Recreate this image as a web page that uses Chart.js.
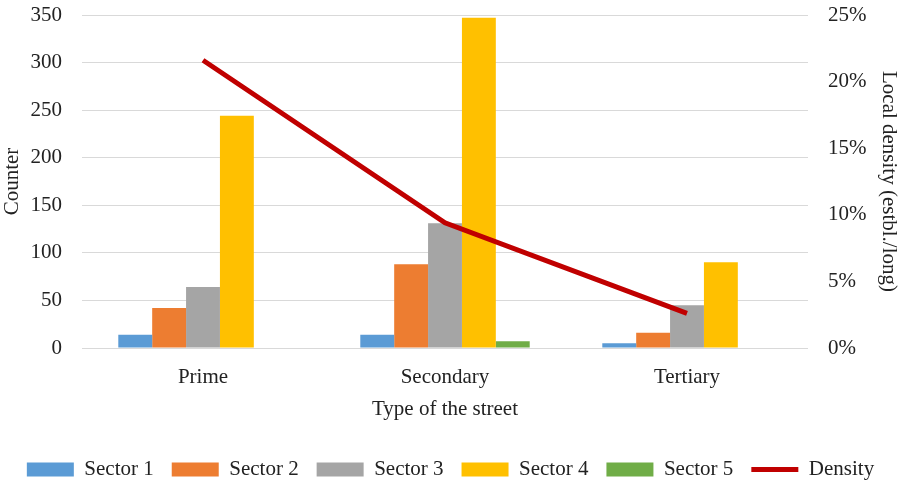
<!DOCTYPE html>
<html>
<head>
<meta charset="utf-8">
<script src="https://cdn.jsdelivr.net/npm/chart.js@4"></script>
<style>
  html, body { margin: 0; padding: 0; background: #fff; }
  #wrap { width: 901px; height: 483px; }
</style>
</head>
<body>
<div id="wrap"><canvas id="chart" width="901" height="483"></canvas></div>
<script>
// Data
const streetTypes = ["Prime", "Secondary", "Tertiary"];
const sector1 = [14, 14, 5];
const sector2 = [42, 88, 16];
const sector3 = [64, 131, 45];
const sector4 = [244, 347, 90];
const sector5 = [0, 7, 0];
const density = [0.216, 0.094, 0.026];

const serif = "'Liberation Serif', 'Times New Roman', serif";
Chart.defaults.font.family = serif;
Chart.defaults.font.size = 21;
Chart.defaults.color = "#222";

function barSet(label, data, color) {
  return {
    type: "bar",
    label: label,
    data: data,
    backgroundColor: color,
    borderWidth: 0,
    yAxisID: "y",
    pointStyle: "rect",
    order: 2,
  };
}

// keep the plot box where the original has it
function fixVertical(width) {
  return function (scale) {
    scale.width = width;
    scale.paddingTop = 15;
    scale.paddingBottom = 0;
  };
}

const ctx = document.getElementById("chart").getContext("2d");
new Chart(ctx, {
  data: {
    labels: streetTypes,
    datasets: [
      barSet("Sector 1", sector1, "#5B9BD5"),
      barSet("Sector 2", sector2, "#ED7D31"),
      barSet("Sector 3", sector3, "#A5A5A5"),
      barSet("Sector 4", sector4, "#FFC000"),
      barSet("Sector 5", sector5, "#70AD47"),
      {
        type: "line",
        label: "Density",
        data: density,
        borderColor: "#C00000",
        backgroundColor: "#C00000",
        borderWidth: 5,
        pointRadius: 0,
        pointStyle: "line",
        tension: 0,
        yAxisID: "y1",
        order: 1,
      },
    ],
  },
  options: {
    responsive: false,
    animation: false,
    layout: { padding: { left: 0, right: 0, top: 0, bottom: -7 } },
    datasets: {
      bar: { categoryPercentage: 0.7, barPercentage: 1.0 },
    },
    scales: {
      x: {
        grid: { display: false },
        border: { display: false },
        ticks: { padding: 9 },
        title: { display: true, text: "Type of the street", padding: { top: 6, bottom: 19 } },
        afterFit: function (scale) { scale.height = 93; },
      },
      y: {
        position: "left",
        min: 0,
        max: 350,
        ticks: { stepSize: 50, padding: 20 },
        grid: { color: "#d9d9d9", lineWidth: 1, drawTicks: false },
        border: { display: false },
        title: { display: true, text: "Counter", padding: 0 },
        afterFit: fixVertical(82),
      },
      y1: {
        position: "right",
        min: 0,
        max: 0.25,
        ticks: {
          stepSize: 0.05,
          padding: 20,
          callback: function (value) {
            return Math.round(value * 100) + "%";
          },
        },
        grid: { display: false, drawTicks: false },
        border: { display: false },
        title: { display: true, text: "Local density (estbl./long)", padding: 0 },
        afterFit: fixVertical(93),
      },
    },
    plugins: {
      legend: {
        position: "bottom",
        labels: {
          usePointStyle: true,
          pointStyleWidth: 47,
          boxHeight: 14,
          padding: 18,
          font: { size: 21 },
          sort: function (a, b) { return a.datasetIndex - b.datasetIndex; },
        },
      },
      tooltip: { enabled: false },
    },
  },
});
</script>
</body>
</html>
